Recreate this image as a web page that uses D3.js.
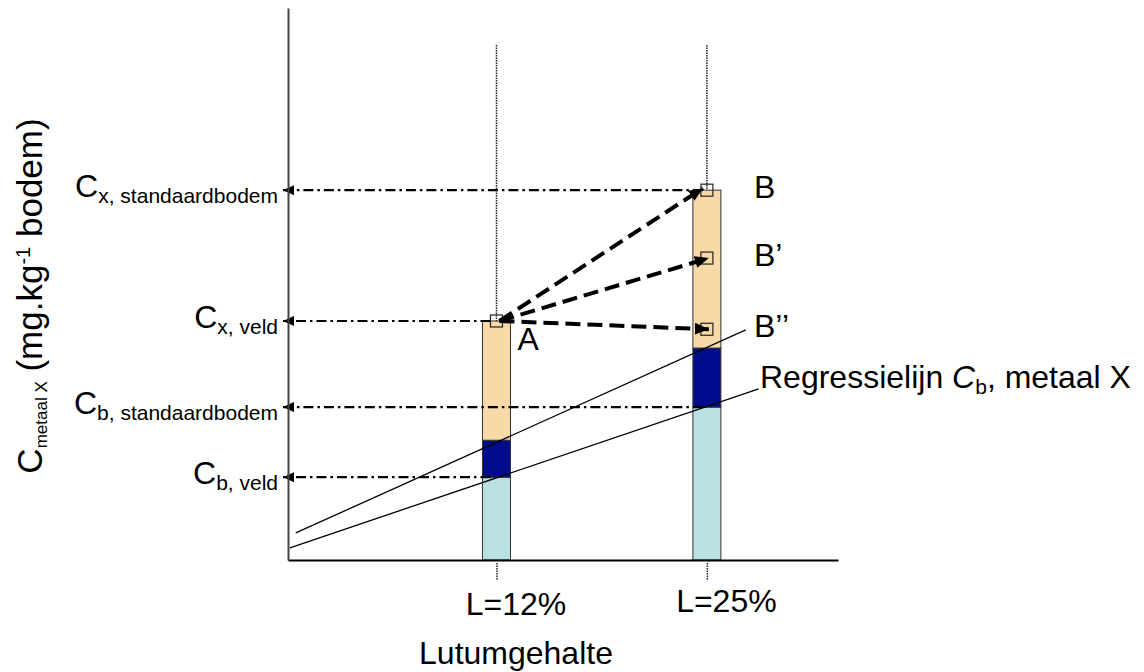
<!DOCTYPE html>
<html>
<head>
<meta charset="utf-8">
<script src="https://cdn.jsdelivr.net/npm/d3@7"></script>
<style>
  body { margin: 0; background: #fff; }
  text { font-family: Arial, "Liberation Sans", sans-serif; fill: #000; }
</style>
</head>
<body>
<div class="holder"></div>
<script>
// lutum categories on the x axis
var categories = ['L=12%', 'L=25%']
var lutum = [12, 25]

// stacked bar levels (concentration, arbitrary units)
var cbLevel = [15, 27.7]      // light blue: background value Cb
var cbRegLevel = [21.7, 38.4] // navy top
var cxLevel = [43.3, 67.0]    // tan top: measured / standard soil Cx

// points B, B', B'' on the 25% bar
var bLabels = ['B', 'B\u2019', 'B\u2019\u2019']
var bValues = [67.0, 54.7, 41.8]

// guide levels drawn back to the y axis
var guideMain = ['C', 'C', 'C', 'C']
var guideSub = ['x, standaardbodem', 'x, veld', 'b, standaardbodem', 'b, veld']
var guideValue = [67.0, 43.3, 27.7, 15]
var guideFrom = [25, 12, 25, 12]

// regression lines [lutum, value] endpoints
var regLower = [[-0.76, 2.2], [28.2, 31.0]]
var regUpper = [[-0.4, 4.9], [27.4, 41.7]]

var width = 1144,
height = 672,
barWidth = 28

var svg = d3.select('.holder')
  .append('svg')
  .attr('width', width)
  .attr('height', height)

var xScale = d3.scaleLinear()
  .domain([-0.88, 33.1])
  .range([288, 838])

var yScale = d3.scaleLinear()
  .domain([0, 100])
  .range([560, 8])

var defs = svg.append('defs')
defs.append('marker')
  .attr('id', 'bigHead')
  .attr('markerUnits', 'userSpaceOnUse')
  .attr('viewBox', '0 0 14 12')
  .attr('refX', 14).attr('refY', 6)
  .attr('markerWidth', 14).attr('markerHeight', 12)
  .attr('orient', 'auto')
  .append('path').attr('d', 'M0,0L14,6L0,12Z').attr('fill', '#000')

defs.append('marker')
  .attr('id', 'smallHead')
  .attr('markerUnits', 'userSpaceOnUse')
  .attr('viewBox', '0 0 11 10')
  .attr('refX', 11).attr('refY', 5)
  .attr('markerWidth', 11).attr('markerHeight', 10)
  .attr('orient', 'auto')
  .append('path').attr('d', 'M0,0L11,5L0,10Z').attr('fill', '#000')

// dotted verticals above the bars
svg.selectAll('.vdot')
  .data(lutum)
  .enter()
  .append('line')
  .attr('x1', function(d) { return xScale(d) })
  .attr('x2', function(d) { return xScale(d) })
  .attr('y1', 45)
  .attr('y2', function(d, i) { return yScale(cxLevel[i]) })
  .attr('stroke', '#222')
  .attr('stroke-width', 1.5)
  .attr('stroke-dasharray', '1.5,1')

// stacked bars
var segments = []
lutum.forEach(function(L, i) {
  segments.push({ L: L, y0: 0, y1: cbLevel[i], fill: '#b9e0e3' })
  segments.push({ L: L, y0: cbLevel[i], y1: cbRegLevel[i], fill: '#000c8c' })
  segments.push({ L: L, y0: cbRegLevel[i], y1: cxLevel[i], fill: '#f8d9a8' })
})

svg.selectAll('.seg')
  .data(segments)
  .enter()
  .append('rect')
  .attr('class', 'seg')
  .attr('x', function(d) { return xScale(d.L) - barWidth / 2 })
  .attr('y', function(d) { return yScale(d.y1) })
  .attr('width', barWidth)
  .attr('height', function(d) { return yScale(d.y0) - yScale(d.y1) })
  .attr('fill', function(d) { return d.fill })
  .attr('stroke', '#333')
  .attr('stroke-width', 1)

// regression lines
var line = d3.line()
  .x(function(d) { return xScale(d[0]) })
  .y(function(d) { return yScale(d[1]) })

svg.selectAll('.reg')
  .data([regLower, regUpper])
  .enter()
  .append('path')
  .attr('d', line)
  .attr('fill', 'none')
  .attr('stroke', '#000')
  .attr('stroke-width', 1.3)

// dash-dot guides back to the axis
svg.selectAll('.guide')
  .data(guideValue)
  .enter()
  .append('line')
  .attr('x1', function(d, i) { return xScale(guideFrom[i]) - (guideFrom[i] === 25 ? 4 : 6) })
  .attr('x2', 283)
  .attr('y1', function(d) { return yScale(d) })
  .attr('y2', function(d) { return yScale(d) })
  .attr('stroke', '#000')
  .attr('stroke-width', 2.2)
  .attr('stroke-dasharray', '10,4,2.5,4')
  .attr('marker-end', 'url(#smallHead)')

var guideText = svg.selectAll('.glabel')
  .data(guideValue)
  .enter()
  .append('text')
  .attr('x', 278)
  .attr('y', function(d) { return yScale(d) + 7 })
  .attr('text-anchor', 'end')
  .style('font-size', '32px')
guideText.append('tspan').text(function(d, i) { return guideMain[i] })
guideText.append('tspan').attr('dy', 6).style('font-size', '21px')
  .text(function(d, i) { return guideSub[i] })

// markers A, B, B', B''
var aX = xScale(lutum[0]), aY = yScale(cxLevel[0])
svg.append('rect')
  .attr('x', aX - 6).attr('y', aY - 6)
  .attr('width', 12).attr('height', 12)
  .attr('fill', 'none').attr('stroke', '#222').attr('stroke-width', 1.2)

svg.selectAll('.bmark')
  .data(bValues)
  .enter()
  .append('rect')
  .attr('x', xScale(lutum[1]) - 6)
  .attr('y', function(d) { return yScale(d) - 6 })
  .attr('width', 12).attr('height', 12)
  .attr('fill', 'none').attr('stroke', '#222').attr('stroke-width', 1.2)

// dashed arrows from A
svg.selectAll('.arrow')
  .data(bValues)
  .enter()
  .append('line')
  .attr('x1', aX + 3)
  .attr('y1', aY)
  .attr('x2', function(d, i) { return xScale(lutum[1]) + (i === 0 ? -4 : 2) })
  .attr('y2', function(d, i) { return yScale(d) + (i === 0 ? -2 : 0) })
  .attr('stroke', '#000')
  .attr('stroke-width', 4)
  .attr('stroke-dasharray', '15,7')
  .attr('marker-end', 'url(#bigHead)')

// point labels
svg.append('text')
  .attr('x', aX + 21).attr('y', aY + 29)
  .style('font-size', '32px')
  .text('A')

svg.selectAll('.blabel')
  .data(bValues)
  .enter()
  .append('text')
  .attr('x', 754)
  .attr('y', function(d) { return yScale(d) + 8 })
  .style('font-size', '32px')
  .text(function(d, i) { return bLabels[i] })

// regression label
var regText = svg.append('text')
  .attr('x', 760)
  .attr('y', yScale(regLower[1][1]) - 1)
  .style('font-size', '32px')
regText.append('tspan').text('Regressielijn ')
regText.append('tspan').style('font-style', 'italic').text('C')
regText.append('tspan').attr('dy', 6).style('font-size', '21px').text('b')
regText.append('tspan').attr('dy', -6).text(', metaal X')

// axes
var xAxis = d3.axisBottom(xScale)
  .tickValues(lutum)
  .tickSize(20)
  .tickSizeOuter(0)
  .tickPadding(14)
  .tickFormat(function(d, i) { return categories[i] })

var xChart = svg.append('g')
  .attr('id', 'x-axis')
  .attr('transform', 'translate(0,560)')
  .call(xAxis)

xChart.select('.domain').attr('stroke', '#000').attr('stroke-width', 2)
xChart.selectAll('.tick line')
  .attr('stroke', '#222')
  .attr('stroke-width', 1.5)
  .attr('stroke-dasharray', '1.5,1')
  .attr('y1', 3)
xChart.selectAll('.tick text')
  .style('font-size', '32px')
  .style('font-family', 'Arial, "Liberation Sans", sans-serif')
  .attr('fill', '#000')
  .attr('dx', 19)
  .attr('dy', function(d, i) { return i === 0 ? 21 : 18 })

var yAxis = d3.axisLeft(yScale).tickValues([]).tickSizeOuter(0)
svg.append('g')
  .attr('id', 'y-axis')
  .attr('transform', 'translate(288,0)')
  .call(yAxis)
  .select('.domain')
  .attr('stroke', '#444')
  .attr('stroke-width', 2)

svg.append('text')
  .attr('x', 516)
  .attr('y', 664)
  .attr('text-anchor', 'middle')
  .style('font-size', '32px')
  .text('Lutumgehalte')

var yTitle = svg.append('text')
  .attr('transform', 'translate(42,296) rotate(-90)')
  .attr('text-anchor', 'middle')
  .style('font-size', '35px')
yTitle.append('tspan').text('C')
yTitle.append('tspan').attr('dy', 5).style('font-size', '17px').text('metaal X')
yTitle.append('tspan').attr('dy', -5).text(' (mg.kg')
yTitle.append('tspan').attr('dy', -12).style('font-size', '20px').text('-1')
yTitle.append('tspan').attr('dy', 12).text(' bodem)')
</script>
</body>
</html>
